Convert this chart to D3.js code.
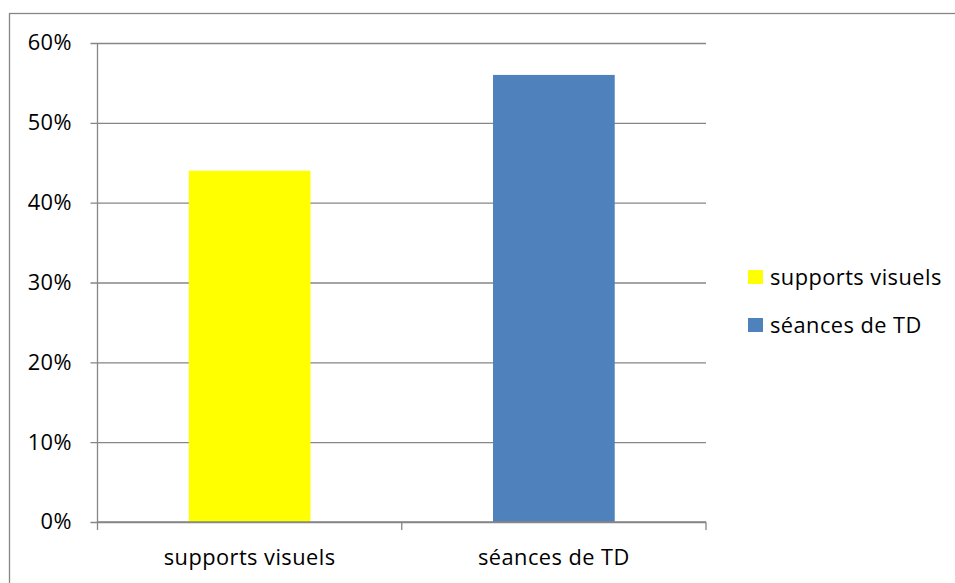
<!DOCTYPE html>
<html>
<head>
<meta charset="utf-8">
<script src="https://cdn.jsdelivr.net/npm/d3@7"></script>
<style>
  html, body { margin: 0; padding: 0; background: #fff; }
  svg { display: block; }
  text { font-family: "Open Sans", "Noto Sans", sans-serif; fill: #000; }
</style>
</head>
<body>
<svg id="chart" width="955" height="583"></svg>
<script>
// Share of responses per category
const categories = ["supports visuels", "séances de TD"];
const values = [0.44, 0.56];
const colors = ["#FFFF00", "#4F81BD"];
const yTicks = [0, 0.1, 0.2, 0.3, 0.4, 0.5, 0.6];

const svg = d3.select("#chart");
const W = 955, H = 583;
const plot = { left: 97.5, right: 706, top: 43, bottom: 522 };
const gridColor = "#868686";
const fontSize = "21.8px";
const spacing = "0.45px";

// Chart frame (extends past the right and bottom edges of the page)
svg.append("rect")
  .attr("x", 9.5).attr("y", 13.5)
  .attr("width", W + 20).attr("height", H + 20)
  .attr("fill", "none").attr("stroke", gridColor).attr("stroke-width", 1.3);

const x = d3.scaleBand()
  .domain(categories)
  .range([plot.left, plot.right])
  .paddingInner(0.6)
  .paddingOuter(0.3);

const y = d3.scaleLinear()
  .domain([0, 0.6])
  .range([plot.bottom, plot.top]);

// Horizontal gridlines with y ticks
const yAxis = d3.axisLeft(y)
  .tickValues(yTicks)
  .tickFormat(d3.format(".0%"))
  .tickSize(-(plot.right - plot.left))
  .tickPadding(25.5);

const gy = svg.append("g")
  .attr("transform", `translate(${plot.left},0)`)
  .call(yAxis);
gy.select(".domain").remove();
gy.selectAll(".tick line")
  .attr("x1", -7)
  .attr("stroke", gridColor).attr("stroke-width", 1.3);
gy.selectAll(".tick text")
  .style("font-size", fontSize)
  .style("letter-spacing", spacing)
  .attr("fill", "#000");

// Vertical axis line
svg.append("line")
  .attr("x1", plot.left).attr("x2", plot.left)
  .attr("y1", plot.top).attr("y2", plot.bottom)
  .attr("stroke", gridColor).attr("stroke-width", 1.3);

// Bars
svg.append("g").selectAll("rect")
  .data(categories)
  .join("rect")
  .attr("x", d => x(d))
  .attr("width", x.bandwidth())
  .attr("y", (d, i) => y(values[i]))
  .attr("height", (d, i) => y(0) - y(values[i]))
  .attr("fill", (d, i) => colors[i]);

// Category axis with boundary ticks
const step = x.step();
const boundaries = [plot.left, plot.left + step, plot.left + 2 * step];
svg.append("line")
  .attr("x1", plot.left).attr("x2", plot.right)
  .attr("y1", plot.bottom).attr("y2", plot.bottom)
  .attr("stroke", gridColor).attr("stroke-width", 1.3);
svg.append("g").selectAll("line")
  .data(boundaries)
  .join("line")
  .attr("x1", d => d).attr("x2", d => d)
  .attr("y1", plot.bottom).attr("y2", plot.bottom + 8)
  .attr("stroke", gridColor).attr("stroke-width", 1.3);
svg.append("g").selectAll("text")
  .data(categories)
  .join("text")
  .attr("x", d => x(d) + x.bandwidth() / 2)
  .attr("y", 565)
  .attr("text-anchor", "middle")
  .style("font-size", fontSize)
  .style("letter-spacing", spacing)
  .text(d => d);

// Legend
const legend = svg.append("g").selectAll("g")
  .data(categories)
  .join("g")
  .attr("transform", (d, i) => `translate(748,${270 + i * 48})`);
legend.append("rect")
  .attr("width", 15).attr("height", 14)
  .attr("fill", (d, i) => colors[i]);
legend.append("text")
  .attr("x", 22).attr("y", 14.5)
  .style("font-size", fontSize)
  .style("letter-spacing", spacing)
  .text(d => d);
</script>
</body>
</html>
